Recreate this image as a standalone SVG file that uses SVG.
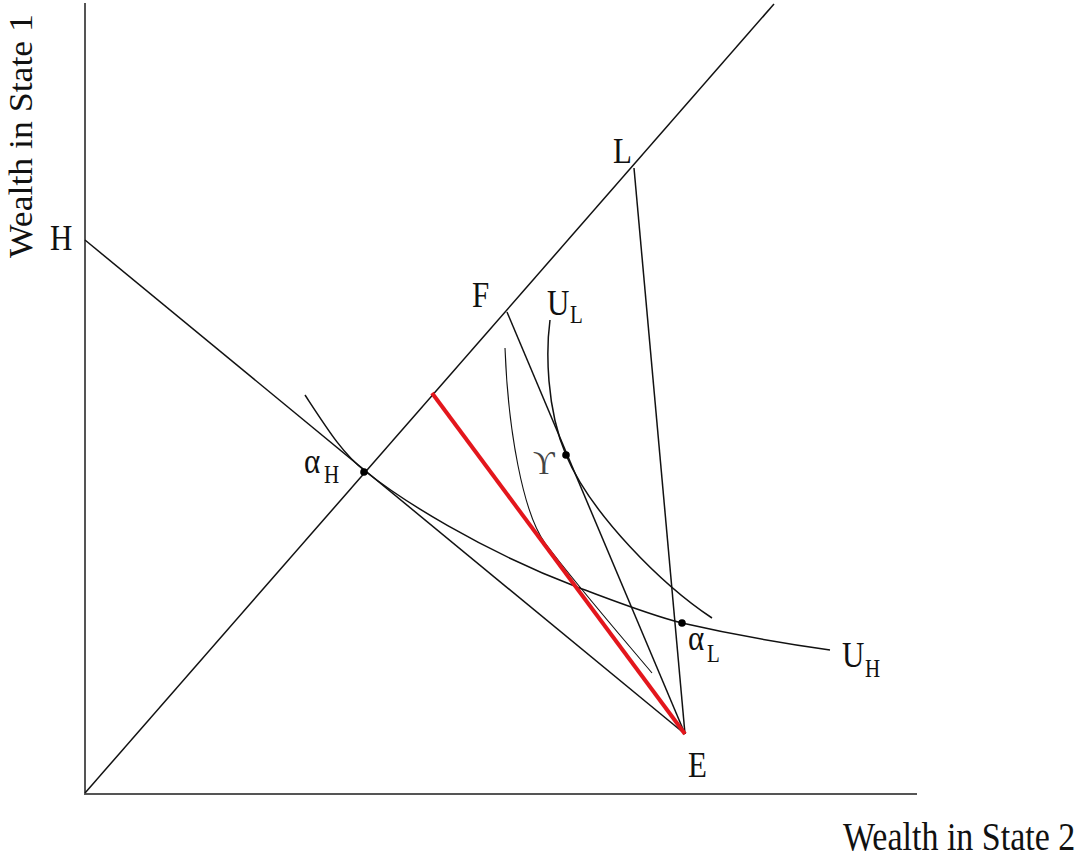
<svg xmlns="http://www.w3.org/2000/svg" width="1081" height="859" viewBox="0 0 1081 859">
<style>
.ax{stroke:#555;stroke-width:2;fill:none}
.ln{stroke:#111;stroke-width:1.5;fill:none}
.cv{stroke:#111;stroke-width:1.5;fill:none}
.thin{stroke:#111;stroke-width:1.1;fill:none}
.red{stroke:#e3161c;stroke-width:4;fill:none;stroke-linecap:butt}
.dot{fill:#000}
text{font-family:"Liberation Serif","DejaVu Serif",serif;fill:#111}
.big{font-size:31px}
.sub{font-size:21px}
.ax-t{font-size:34px}
</style>
<rect width="1081" height="859" fill="#fff"/>
<g id="axes">
<line class="ax" x1="85" y1="3" x2="85" y2="795"/>
<line class="ax" x1="84" y1="794" x2="917" y2="794"/>
</g>
<g id="connectors">
<line class="ln" x1="85" y1="793" x2="774" y2="4"/>
<line class="ln" x1="85" y1="240" x2="685" y2="734"/>
<line class="ln" x1="507" y1="312" x2="685" y2="734"/>
<line class="ln" x1="634" y1="168" x2="685" y2="734"/>
<path class="cv" d="M305,395 C328,430 343,454 365,471 C400,499 480,550 577,587 C620,603 650,615 682,623 C730,634 780,643 830,650"/>
<path class="cv" d="M550,320 C546,350 546,408 566,455 C591,514 662,585 712,618"/>
<path class="thin" d="M505,348 C508,430 523,513 545,543 C575,583 620,635 652,673"/>
<line class="red" x1="432" y1="393" x2="685" y2="734"/>
</g>
<g id="points">
<circle class="dot" cx="364" cy="472" r="3.8"/>
<circle class="dot" cx="566" cy="455" r="3.8"/>
<circle class="dot" cx="682" cy="623" r="3.8"/>
</g>
<g id="labels">
<text class="ax-t" transform="translate(843,850) scale(1,1.15)">Wealth in State 2</text>
<text class="ax-t" transform="translate(32,258) rotate(-90) scale(1.05,0.97)">Wealth in State 1</text>
<text class="big" transform="translate(50,250) scale(1,1.15)">H</text>
<text class="big" transform="translate(613,163) scale(1,1.15)">L</text>
<text class="big" transform="translate(472,307) scale(1,1.15)">F</text>
<text class="big" transform="translate(688,777) scale(1,1.15)">E</text>
<text class="big" transform="translate(547,315) scale(1,1.15)">U</text>
<text class="sub" transform="translate(570,323) scale(1,1.15)">L</text>
<text class="big" transform="translate(842,667) scale(1,1.15)">U</text>
<text class="sub" transform="translate(865,677) scale(1,1.15)">H</text>
<text class="big" transform="translate(304,473) scale(1,1.15)">α</text>
<text class="sub" transform="translate(324,483) scale(1,1.15)">H</text>
<text class="big" transform="translate(688,650) scale(1,1.15)">α</text>
<text class="sub" transform="translate(707,662) scale(1,1.15)">L</text>
<text style="font-size:30px;fill:#444" transform="translate(533,474) scale(1,1.1)">ϒ</text>
</g>
</svg>
